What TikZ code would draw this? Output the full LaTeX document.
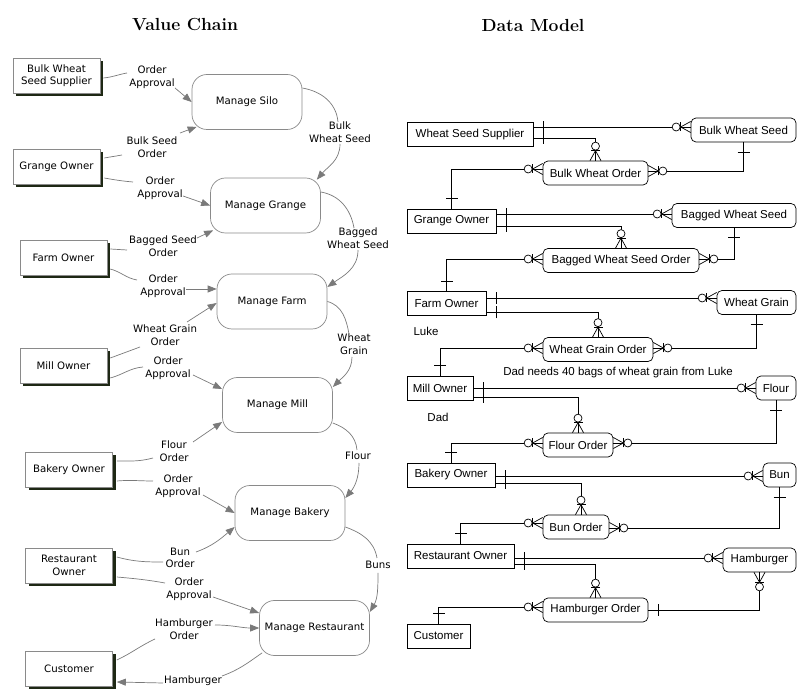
\documentclass[tikz,border=0pt]{standalone}
\usepackage{fontspec}
\newfontfamily\lft{DejaVu Sans}
\newfontfamily\rgt{Liberation Sans}
\usetikzlibrary{arrows.meta,calc,shadows}
\definecolor{lnc}{HTML}{7A7A7A}
\definecolor{bdc}{HTML}{8A8A8A}
\definecolor{shc}{HTML}{1E2814}
\tikzset{
 ent/.style={rectangle, draw=bdc, fill=white, line width=0.6pt, minimum width=87pt, minimum height=35pt, align=center, inner sep=1pt, font=\lft\fontsize{10.2}{12.5}\selectfont, general shadow={fill=shc, shadow xshift=3pt, shadow yshift=-3pt}},
 proc/.style={rectangle, rounded corners=15pt, draw=bdc, fill=white, line width=0.7pt, minimum width=110pt, minimum height=55pt, font=\lft\fontsize{10.2}{12}\selectfont},
 lab/.style={align=center, inner sep=1pt, font=\lft\fontsize{10.2}{12.5}\selectfont},
 flow/.style={draw=lnc, line width=0.7pt},
 flowa/.style={flow, -{Triangle[length=9pt,width=7pt]}},
 ttl/.style={font=\fontsize{17.5}{21}\selectfont\bfseries},
 tbl/.style={rectangle, draw=black, line width=0.7pt, minimum height=24pt, inner sep=0pt, font=\rgt\fontsize{11.5}{13}\selectfont},
 rtbl/.style={tbl, rounded corners=5pt},
 txt/.style={inner sep=0pt, font=\rgt\fontsize{11.5}{13}\selectfont},
 er/.style={draw=black, line width=0.7pt},
 zmany/.pic={\draw[er] (0,-5.5) -- (10,0) -- (0,5.5); \draw[er] (10,-4.5) -- (10,4.5); \draw[er,fill=white] (14.5,0) circle[radius=4pt];},
 onebar/.pic={\draw[er] (10,-6) -- (10,6);}
}
\begin{document}
\begin{tikzpicture}[x=1pt,y=1pt]
\useasboundingbox (0,0) rectangle (807,-700);
% titles
\node[ttl] (t1) at (185,-25) {Value Chain};
\node[ttl] (t2) at (533,-25) {Data Model};
% ---------------- Value chain ----------------
\node[ent] (bwss) at (56.5,-75.5) {Bulk Wheat\\Seed Supplier};
\node[ent] (go) at (56.5,-167) {Grange Owner};
\node[ent] (fo) at (63.5,-257.5) {Farm Owner};
\node[ent] (mo) at (63.5,-365.5) {Mill Owner};
\node[ent] (bo) at (69,-469.5) {Bakery Owner};
\node[ent] (ro) at (69,-565.5) {Restaurant\\Owner};
\node[ent] (cu) at (69,-669) {Customer};
\node[proc] (silo) at (247,-102) {Manage Silo};
\node[proc] (grange) at (265.5,-205.5) {Manage Grange};
\node[proc] (farm) at (272,-301.5) {Manage Farm};
\node[proc] (mill) at (277.5,-405) {Manage Mill};
\node[proc] (bakery) at (290,-513) {Manage Bakery};
\node[proc] (rest) at (314.5,-628) {Manage Restaurant};
\node[lab] (L1) at (152,-77) {Order\\Approval};
\node[lab] (L2) at (152,-147) {Bulk Seed\\Order};
\node[lab] (L3) at (160,-188) {Order\\Approval};
\node[lab] (L4) at (340,-132) {Bulk\\Wheat Seed};
\node[lab] (L5) at (163,-246) {Bagged Seed\\Order};
\node[lab] (L6) at (163,-286) {Order\\Approval};
\node[lab] (L7) at (358,-238) {Bagged\\Wheat Seed};
\node[lab] (L8) at (165,-335) {Wheat Grain\\Order};
\node[lab] (L9) at (168,-368) {Order\\Approval};
\node[lab] (L10) at (354,-344) {Wheat\\Grain};
\node[lab] (L11) at (174,-451) {Flour\\Order};
\node[lab] (L12) at (178,-486) {Order\\Approval};
\node[lab] (L13) at (358,-456) {Flour};
\node[lab] (L14) at (180,-558) {Bun\\Order};
\node[lab] (L15) at (189,-589) {Order\\Approval};
\node[lab] (L16) at (378,-565) {Buns};
\node[lab] (L17) at (184,-629) {Hamburger\\Order};
\node[lab] (L18) at (193,-681) {Hamburger};
% connectors
\draw[flow] ($(bwss.east)+(3,-2.5)$) to[out=5,in=190] ($(L1)+(-25,4)$);
\draw[flowa] ($(L1)+(23,-11)$) -- (silo.west);
\draw[flow] ($(go.east)+(4,9)$) to[out=10,in=190] ($(L2)+(-30,-8)$);
\draw[flowa] ($(L2)+(28,14)$) -- ($(silo.south west)+(5,3)$);
\draw[flow] ($(go.east)+(4,-11)$) to[out=-10,in=175] ($(L3)+(-27,6)$);
\draw[flowa] ($(L3)+(23,-8)$) -- (grange.west);
\draw[flow] ($(silo.east)+(0,14)$) to[out=-10,in=95] ($(L4)+(-2,10)$);
\draw[flowa] ($(L4)+(0,-12)$) to[out=-90,in=50] ($(grange.north east)+(-4,-2)$);
\draw[flow] ($(fo.east)+(3,8.5)$) -- ($(L5)+(-36,-4)$);
\draw[flowa] ($(L5)+(34,8)$) -- ($(grange.south west)+(3,3)$);
\draw[flow] ($(fo.east)+(3,-11.5)$) to[out=-15,in=170] ($(L6)+(-26,6)$);
\draw[flowa] ($(L6)+(23,-3)$) -- ($(farm.west)+(0,12.5)$);
\draw[flow] ($(grange.east)+(0,13.5)$) to[out=-10,in=100] ($(L7)+(-4,10)$);
\draw[flowa] ($(L7)+(0,-12)$) to[out=-90,in=35] ($(farm.east)+(0,14.5)$);
\draw[flow] ($(mo.east)+(3,7.5)$) -- ($(L8)+(-25,-12)$);
\draw[flowa] ($(L8)+(22,13)$) -- ($(farm.west)+(0,-1.5)$);
\draw[flow] ($(mo.east)+(3,-12.5)$) to[out=15,in=185] ($(L9)+(-25,1)$);
\draw[flowa] ($(L9)+(25,-7)$) -- ($(mill.west)+(0,16)$);
\draw[flow] (farm.east) to[out=-15,in=100] ($(L10)+(-5,10)$);
\draw[flowa] ($(L10)+(-2,-13)$) to[out=-90,in=45] ($(mill.east)+(0,18)$);
\draw[flow] ($(bo.east)+(4,8.5)$) to[out=0,in=195] ($(L11)+(-21,-7)$);
\draw[flowa] ($(L11)+(19,9)$) -- ($(mill.west)+(0,-17)$);
\draw[flow] ($(bo.east)+(4,-11.5)$) to[out=5,in=180] ($(L12)+(-25,5)$);
\draw[flowa] ($(L12)+(25,-9)$) -- (bakery.west);
\draw[flow] ($(mill.east)+(0,-18)$) to[out=-20,in=95] ($(L13)+(-1,6)$);
\draw[flowa] ($(L13)+(1,-7)$) to[out=-90,in=50] ($(bakery.east)+(0,15)$);
\draw[flow] ($(ro.east)+(4,8.5)$) to[out=-15,in=180] ($(L14)+(-17,-4)$);
\draw[flowa] ($(L14)+(16,6)$) to[out=20,in=-140] ($(bakery.west)+(0,-14)$);
\draw[flow] ($(ro.east)+(4,-11.5)$) to[out=-5,in=170] ($(L15)+(-24,6)$);
\draw[flowa] ($(L15)+(24,-8)$) -- ($(rest.west)+(0,15)$);
\draw[flow] ($(bakery.east)+(0,-14)$) to[out=-20,in=100] ($(L16)+(-1,7)$);
\draw[flowa] ($(L16)+(0,-8)$) to[out=-90,in=60] ($(rest.east)+(0,16)$);
\draw[flow] ($(cu.east)+(4,9)$) to[out=25,in=-155] ($(L17)+(-29,-10)$);
\draw[flowa] ($(L17)+(31,4)$) to[out=0,in=180] (rest.west);
\draw[flow] ($(rest.south west)+(3,3)$) to[out=-145,in=20] ($(L18)+(29,5)$);
\draw[flowa] ($(L18)+(-30,-2)$) -- ($(cu.east)+(4,-13)$);
% ---------------- Data model ----------------
\node[tbl, minimum width=126pt] (wss) at (470,-134.5) {Wheat Seed Supplier};
\node[rtbl, minimum width=105pt] (bws) at (743.5,-130) {Bulk Wheat Seed};
\node[rtbl, minimum width=105pt] (bwo) at (595.5,-173) {Bulk Wheat Order};
\node[tbl, minimum width=89pt] (gro) at (451.5,-221) {Grange Owner};
\node[rtbl, minimum width=124pt] (bgs) at (734,-215.5) {Bagged Wheat Seed};
\node[rtbl, minimum width=156pt] (bgo) at (621,-260.5) {Bagged Wheat Seed Order};
\node[tbl, minimum width=79pt] (fao) at (446.5,-303.5) {Farm Owner};
\node[rtbl, minimum width=79pt] (wgr) at (756.5,-302.5) {Wheat Grain};
\node[rtbl, minimum width=110pt] (wgo) at (598,-349.5) {Wheat Grain Order};
\node[tbl, minimum width=66pt] (mio) at (440,-388) {Mill Owner};
\node[rtbl, minimum width=40pt] (flr) at (776,-388) {Flour};
\node[rtbl, minimum width=70pt] (flo) at (578,-445) {Flour Order};
\node[tbl, minimum width=88pt] (bao) at (451,-475) {Bakery Owner};
\node[rtbl, minimum width=33pt] (bun) at (779.5,-475) {Bun};
\node[rtbl, minimum width=66pt] (buo) at (576,-527) {Bun Order};
\node[tbl, minimum width=107pt] (reo) at (460.5,-556) {Restaurant Owner};
\node[rtbl, minimum width=73pt] (ham) at (759.5,-560) {Hamburger};
\node[rtbl, minimum width=105pt] (hao) at (595.5,-610) {Hamburger Order};
\node[tbl, minimum width=63pt] (cus) at (438.5,-636) {Customer};
\node[txt] (luke) at (426,-331) {Luke};
\node[txt] (note) at (618,-373) {Dad needs 40 bags of wheat grain from Luke};
\node[txt] (dad) at (438,-417) {Dad};
% relationships
\draw[er] (wss.east |- 0,-127) -- (bws.west |- 0,-127);
\path (wss.east |- 0,-127) pic{onebar} (bws.west |- 0,-127) pic[rotate=180]{zmany};
\draw[er] (wss.east |- 0,-138) -| (bwo.north);
\path (wss.east |- 0,-138) pic{onebar} (bwo.north) pic[rotate=90]{zmany};
\draw[er] (gro.north) |- (bwo.west |- 0,-169);
\path (gro.north) pic[rotate=90]{onebar} (bwo.west |- 0,-169) pic[rotate=180]{zmany};
\draw[er] (bws.south) |- (bwo.east |- 0,-171);
\path (bws.south) pic[rotate=-90]{onebar} (bwo.east |- 0,-171) pic{zmany};
\draw[er] (gro.east |- 0,-214) -- (bgs.west |- 0,-214);
\path (gro.east |- 0,-214) pic{onebar} (bgs.west |- 0,-214) pic[rotate=180]{zmany};
\draw[er] (gro.east |- 0,-226) -| (bgo.north);
\path (gro.east |- 0,-226) pic{onebar} (bgo.north) pic[rotate=90]{zmany};
\draw[er] (fao.north) |- (bgo.west |- 0,-259);
\path (fao.north) pic[rotate=90]{onebar} (bgo.west |- 0,-259) pic[rotate=180]{zmany};
\draw[er] (bgs.south) |- (bgo.east |- 0,-259);
\path (bgs.south) pic[rotate=-90]{onebar} (bgo.east |- 0,-259) pic{zmany};
\draw[er] (fao.east |- 0,-298) -- (wgr.west |- 0,-298);
\path (fao.east |- 0,-298) pic{onebar} (wgr.west |- 0,-298) pic[rotate=180]{zmany};
\draw[er] (fao.east |- 0,-312.5) -| (wgo.north);
\path (fao.east |- 0,-312.5) pic{onebar} (wgo.north) pic[rotate=90]{zmany};
\draw[er] (mio.north) |- (wgo.west |- 0,-348);
\path (mio.north) pic[rotate=90]{onebar} (wgo.west |- 0,-348) pic[rotate=180]{zmany};
\draw[er] (wgr.south) |- (wgo.east |- 0,-348);
\path (wgr.south) pic[rotate=-90]{onebar} (wgo.east |- 0,-348) pic{zmany};
\draw[er] (mio.east |- 0,-388) -- (flr.west |- 0,-388);
\path (mio.east |- 0,-388) pic{onebar} (flr.west |- 0,-388) pic[rotate=180]{zmany};
\draw[er] (mio.east |- 0,-397) -| (flo.north);
\path (mio.east |- 0,-397) pic{onebar} (flo.north) pic[rotate=90]{zmany};
\draw[er] (bao.north) |- (flo.west |- 0,-443);
\path (bao.north) pic[rotate=90]{onebar} (flo.west |- 0,-443) pic[rotate=180]{zmany};
\draw[er] (flr.south) |- (flo.east |- 0,-443);
\path (flr.south) pic[rotate=-90]{onebar} (flo.east |- 0,-443) pic{zmany};
\draw[er] (bao.east |- 0,-476) -- (bun.west |- 0,-476);
\path (bao.east |- 0,-476) pic{onebar} (bun.west |- 0,-476) pic[rotate=180]{zmany};
\draw[er] (bao.east |- 0,-483) -| ($(buo.north)+(5,0)$);
\path (bao.east |- 0,-483) pic{onebar} ($(buo.north)+(5,0)$) pic[rotate=90]{zmany};
\draw[er] (reo.north) |- (buo.west |- 0,-523);
\path (reo.north) pic[rotate=90]{onebar} (buo.west |- 0,-523) pic[rotate=180]{zmany};
\draw[er] (bun.south) |- (buo.east |- 0,-528);
\path (bun.south) pic[rotate=-90]{onebar} (buo.east |- 0,-528) pic{zmany};
\draw[er] (reo.east |- 0,-558) -- (ham.west |- 0,-558);
\path (reo.east |- 0,-558) pic{onebar} (ham.west |- 0,-558) pic[rotate=180]{zmany};
\draw[er] (reo.east |- 0,-564) -| (hao.north);
\path (reo.east |- 0,-564) pic{onebar} (hao.north) pic[rotate=90]{zmany};
\draw[er] (cus.north) |- (hao.west |- 0,-607);
\path (cus.north) pic[rotate=90]{onebar} (hao.west |- 0,-607) pic[rotate=180]{zmany};
\draw[er] (hao.east |- 0,-610) -| (ham.south);
\path (hao.east |- 0,-610) pic{onebar} (ham.south) pic[rotate=-90]{zmany};
\end{tikzpicture}
\end{document}
